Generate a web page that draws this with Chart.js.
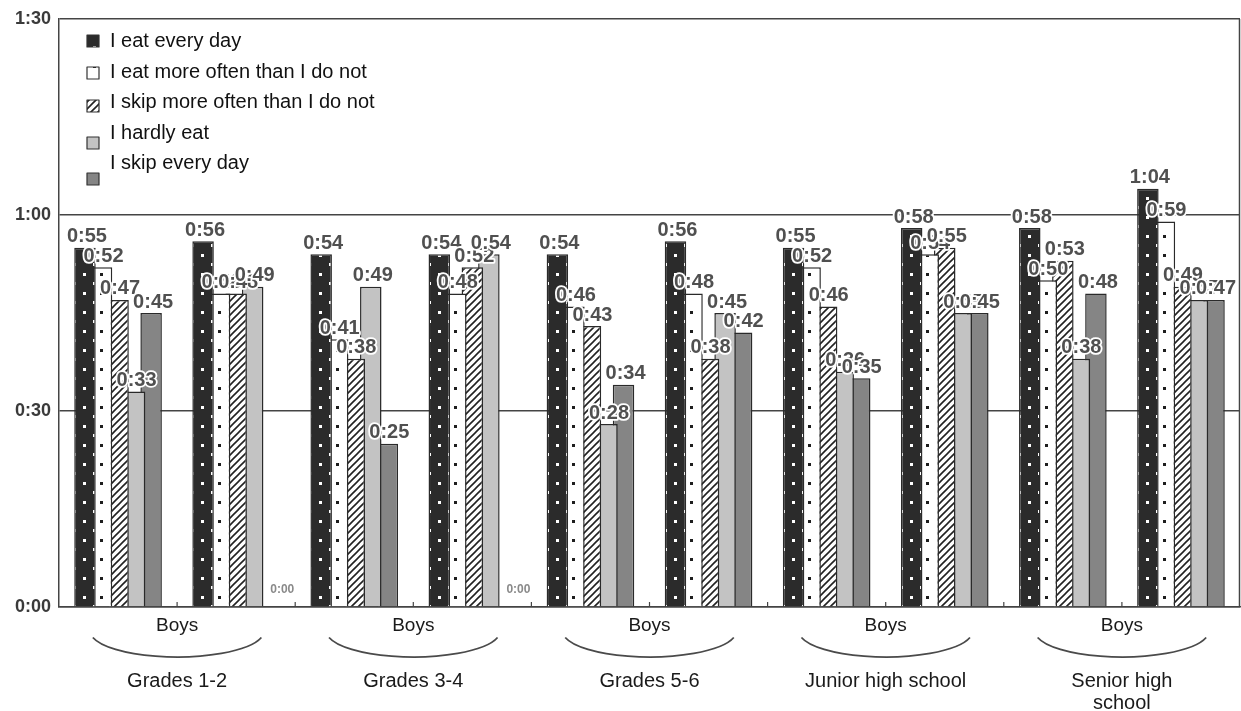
<!DOCTYPE html>
<html>
<head>
<meta charset="utf-8">
<script src="https://cdn.jsdelivr.net/npm/chart.js@4.4.1/dist/chart.umd.min.js"></script>
<style>
  html, body { margin: 0; padding: 0; background: #fff; }
  #wrap { width: 1241px; height: 711px; }
</style>
</head>
<body>
<div id="wrap"><canvas id="c" width="1241" height="711"></canvas></div>
<script>
// Breakfast habit groups
const seriesNames = [
  'I eat every day',
  'I eat more often than I do not',
  'I skip more often than I do not',
  'I hardly eat',
  'I skip every day'
];
// Labels under each pair of clusters
const sexLabels = ['Boys', 'Boys', 'Boys', 'Boys', 'Boys'];
const gradeLabels = [['Grades 1-2'], ['Grades 3-4'], ['Grades 5-6'], ['Junior high school'], ['Senior high', 'school']];

// Minutes, two clusters per grade band
const eatEveryDay   = [55, 56, 54, 54, 54, 56, 55, 58, 58, 64];
const eatMoreOften  = [52, 48, 41, 48, 46, 48, 52, 54, 50, 59];
const skipMoreOften = [47, 48, 38, 52, 43, 38, 46, 55, 53, 49];
const hardlyEat     = [33, 49, 49, 54, 28, 45, 36, 45, 38, 47];
const skipEveryDay  = [45,  0, 25,  0, 34, 42, 35, 45, 48, 47];

const yTickValues = [0, 30, 60, 90];

const clusterLabels = [];
gradeLabels.forEach((g, i) => {
  clusterLabels.push(g.join(' ') + ' ' + sexLabels[i] + ' a');
  clusterLabels.push(g.join(' ') + ' ' + sexLabels[i] + ' b');
});

function fmtTime(m) {
  const h = Math.floor(m / 60);
  const mm = m % 60;
  return h + ':' + String(mm).padStart(2, '0');
}

const CAT_PCT = 0.7;
const BAR_PCT = 1.3;
const FONT = '"Liberation Sans", Arial, sans-serif';

// Pattern tiles
function makeTile(w, h, paint) {
  const c = document.createElement('canvas');
  c.width = w; c.height = h;
  paint(c.getContext('2d'), w, h);
  return c;
}
const darkDotTile = makeTile(21, 19, (g, w, h) => {
  g.fillStyle = '#2b2b2b'; g.fillRect(0, 0, w, h);
  g.fillStyle = '#ffffff';
  g.fillRect(9, 8, 3, 3);
  g.fillRect(-1, 17, 3, 3); g.fillRect(19, 17, 3, 3);
  g.fillRect(-1, -2, 3, 3); g.fillRect(19, -2, 3, 3);
});
const lightDotTile = makeTile(21, 19, (g, w, h) => {
  g.fillStyle = '#ffffff'; g.fillRect(0, 0, w, h);
  g.fillStyle = '#1e1e1e';
  g.fillRect(9, 8, 3, 3);
});
const hatchTile = makeTile(7, 7, (g, w, h) => {
  g.fillStyle = '#ffffff'; g.fillRect(0, 0, w, h);
  g.strokeStyle = '#222'; g.lineWidth = 1.6;
  g.beginPath();
  g.moveTo(-1, h + 1); g.lineTo(w + 1, -1);
  g.moveTo(-1 - w, h + 1); g.lineTo(1, -1);
  g.moveTo(w - 1, h + 1); g.lineTo(2 * w + 1, -1);
  g.stroke();
});
const tiles = [darkDotTile, lightDotTile, hatchTile, null, null];
const solidFills = [null, null, null, '#c3c3c3', '#858585'];
const seriesValues = [eatEveryDay, eatMoreOften, skipMoreOften, hardlyEat, skipEveryDay];

// Pattern anchored to the left edge of each bar so the dots sit centred in it
function patternFill(tile) {
  return (c) => {
    const chart = c.chart;
    const p = chart.ctx.createPattern(tile, 'repeat');
    const x = chart.scales && chart.scales.x;
    if (c.type !== 'data' || !x || !chart.chartArea) return p;
    const n = chart.data.datasets.length;
    const catW = x.getPixelForValue(1) - x.getPixelForValue(0);
    const step = catW * CAT_PCT / n;
    const barW = step * BAR_PCT;
    const left = x.getPixelForValue(c.dataIndex) + (c.datasetIndex - (n - 1) / 2) * step - barW / 2;
    p.setTransform(new DOMMatrix([1, 0, 0, 1, Math.round(left), Math.round(chart.chartArea.bottom)]));
    return p;
  };
}
function legendFill(ctx, i) {
  return tiles[i] ? ctx.createPattern(tiles[i], 'repeat') : solidFills[i];
}

// Frame, tick marks, value labels, legend and group captions
const decorations = {
  id: 'decorations',
  afterDatasetsDraw(chart) {
    const { ctx, chartArea: a, scales: { x } } = chart;
    ctx.save();
    // right frame edge
    ctx.strokeStyle = '#444'; ctx.lineWidth = 1.5;
    ctx.beginPath();
    ctx.moveTo(a.right - 0.5, a.top); ctx.lineTo(a.right - 0.5, a.bottom);
    ctx.stroke();
    // category tick marks at the base
    ctx.lineWidth = 1.2;
    for (let i = 1; i < clusterLabels.length; i++) {
      const px = (x.getPixelForValue(i - 1) + x.getPixelForValue(i)) / 2;
      ctx.beginPath(); ctx.moveTo(px, a.bottom); ctx.lineTo(px, a.bottom - 5); ctx.stroke();
    }
    // value labels
    ctx.textAlign = 'center';
    ctx.lineJoin = 'round';
    chart.data.datasets.forEach((ds, di) => {
      const meta = chart.getDatasetMeta(di);
      meta.data.forEach((bar, i) => {
        const v = ds.data[i];
        const txt = fmtTime(v);
        if (v === 0) {
          ctx.font = 'bold 12px ' + FONT;
          ctx.textBaseline = 'middle';
          ctx.lineWidth = 3; ctx.strokeStyle = '#fff';
          ctx.strokeText(txt, bar.x + 13, a.bottom - 17);
          ctx.fillStyle = '#8a8a8a';
          ctx.fillText(txt, bar.x + 13, a.bottom - 17);
        } else {
          ctx.font = 'bold 20px ' + FONT;
          ctx.textBaseline = 'bottom';
          ctx.lineWidth = 3.5; ctx.strokeStyle = '#fff';
          ctx.strokeText(txt, bar.x + 2, bar.y - 1);
          ctx.fillStyle = '#505050';
          ctx.fillText(txt, bar.x + 2, bar.y - 1);
        }
      });
    });
    // legend
    const boxY = [41, 73, 106, 143, 179];
    const textY = [41, 72, 102, 133, 163];
    ctx.font = '20px ' + FONT;
    ctx.textAlign = 'left'; ctx.textBaseline = 'middle';
    chart.data.datasets.forEach((ds, di) => {
      ctx.fillStyle = legendFill(ctx, di);
      ctx.fillRect(a.left + 28, boxY[di] - 6, 12, 12);
      ctx.strokeStyle = '#333'; ctx.lineWidth = 1.2;
      ctx.strokeRect(a.left + 28, boxY[di] - 6, 12, 12);
      ctx.fillStyle = '#111';
      ctx.fillText(ds.label, a.left + 51, textY[di]);
    });
    // group captions and braces under the axis
    ctx.textAlign = 'center';
    for (let k = 0; k < sexLabels.length; k++) {
      const cx = (x.getPixelForValue(2 * k) + x.getPixelForValue(2 * k + 1)) / 2;
      ctx.fillStyle = '#1a1a1a';
      ctx.font = '19px ' + FONT;
      ctx.fillText(sexLabels[k], cx, a.bottom + 19);
      ctx.strokeStyle = '#4a4a4a'; ctx.lineWidth = 1.8;
      ctx.beginPath();
      ctx.ellipse(cx, a.bottom + 24, 87, 26, 0, 0.08 * Math.PI, 0.92 * Math.PI);
      ctx.stroke();
      ctx.font = '20px ' + FONT;
      gradeLabels[k].forEach((line, li) => {
        ctx.fillText(line, cx, a.bottom + 74 + li * 22);
      });
    }
    ctx.restore();
  }
};

new Chart(document.getElementById('c'), {
  type: 'bar',
  data: {
    labels: clusterLabels,
    datasets: seriesNames.map((name, i) => ({
      label: name,
      data: seriesValues[i],
      backgroundColor: tiles[i] ? patternFill(tiles[i]) : solidFills[i],
      borderColor: '#2a2a2a',
      borderWidth: 1.5,
      categoryPercentage: CAT_PCT,
      barPercentage: BAR_PCT
    }))
  },
  options: {
    responsive: false,
    animation: false,
    devicePixelRatio: 1,
    layout: { padding: { top: 19, right: 1, left: 0, bottom: 0 } },
    plugins: { legend: { display: false }, tooltip: { enabled: false } },
    scales: {
      x: {
        grid: { display: false },
        ticks: { display: false },
        border: { display: true, color: '#444', width: 1.5 },
        afterFit(s) { s.height = 104; }
      },
      y: {
        min: 0, max: 90,
        afterBuildTicks(s) { s.ticks = yTickValues.map(v => ({ value: v })); },
        ticks: {
          padding: 8,
          color: '#3a3a3a',
          font: { family: FONT, size: 18, weight: 'bold' },
          callback: v => fmtTime(v)
        },
        grid: { color: '#444', lineWidth: 1.4, drawTicks: false },
        border: { display: true, color: '#444', width: 1.5 },
        afterFit(s) { s.width = 59; }
      }
    }
  },
  plugins: [decorations]
});
</script>
</body>
</html>
